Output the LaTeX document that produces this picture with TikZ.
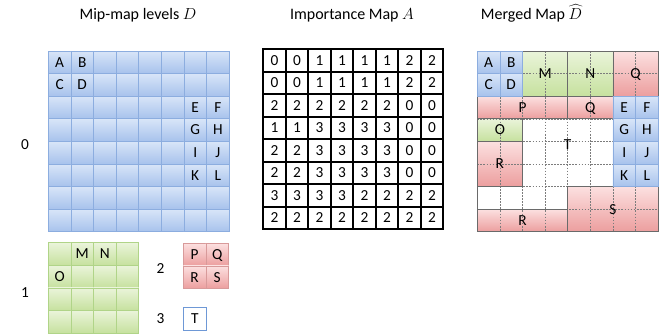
\documentclass[tikz,border=0pt]{standalone}
\usepackage{fontspec}
\setmainfont{Carlito}
\definecolor{bluetop}{HTML}{D8E5F8}
\definecolor{bluebot}{HTML}{A7C2EC}
\definecolor{blueline}{HTML}{8CADDF}
\definecolor{greentop}{HTML}{EAF4DA}
\definecolor{greenbot}{HTML}{C6E19E}
\definecolor{greenline}{HTML}{B0D488}
\definecolor{redtop}{HTML}{FCE0E0}
\definecolor{redbot}{HTML}{EC9E9E}
\definecolor{redline}{HTML}{D89A9A}
\definecolor{regionline}{HTML}{6A6A6A}
\definecolor{dashline}{HTML}{7C7C7C}
\definecolor{tline}{HTML}{6E98D6}
\tikzset{
  bluecell/.style={draw=blueline, line width=0.6pt, top color=bluetop, bottom color=bluebot},
  greencell/.style={draw=greenline, line width=0.6pt, top color=greentop, bottom color=greenbot},
  redcell/.style={draw=redline, line width=0.6pt, top color=redtop, bottom color=redbot},
  greenfill/.style={top color=greentop, bottom color=greenbot},
  redfill/.style={top color=redtop, bottom color=redbot},
  region/.style={draw=regionline, line width=0.6pt},
  gridline/.style={draw=dashline, line width=0.4pt, dash pattern=on 1.3pt off 1pt},
  lab/.style={inner sep=0pt, text height=7.2pt, text depth=0pt, font=\fontsize{11.5}{13}\selectfont},
  title/.style={inner sep=0pt, anchor=base, font=\fontsize{12}{14}\selectfont},
  cellgrid/.style={x=16.95pt, y=-16.95pt},
}
\begin{document}
\begin{tikzpicture}[x=0.75pt, y=-0.75pt]
\useasboundingbox (0,0) rectangle (659,333);

% column titles
\node[title] (tmip) at (138,19.5) {Mip-map levels $D$};
\node[title] (timp) at (352,19.5) {Importance Map $A$};
\node[title] (tmrg) at (531.5,19.5) {Merged Map $\widehat{D}$};

% level numbers
\node[lab] (lev0) at (25,145) {0};
\node[lab] (lev1) at (25,292.5) {1};
\node[lab] (lev2) at (160.5,269) {2};
\node[lab] (lev3) at (160.5,319) {3};

% mip level 0: 8x8
\begin{scope}[shift={(36.225pt,-38.25pt)}, cellgrid]
  \foreach \r in {0,...,7}
    \foreach \c in {0,...,7}
      \draw[bluecell] (\c,\r) rectangle ++(1,1);
  \foreach \c/\r/\t in {0/0/A,1/0/B,0/1/C,1/1/D,6/2/E,7/2/F,6/3/G,7/3/H,6/4/I,7/4/J,6/5/K,7/5/L}
    \node[lab] (d0\t) at (\c+0.5,\r+0.5) {\t};
\end{scope}

% mip level 1: 4x4
\begin{scope}[shift={(36.225pt,-182.025pt)}, cellgrid]
  \foreach \r in {0,...,3}
    \foreach \c in {0,...,3}
      \draw[greencell] (\c,\r) rectangle ++(1,1);
  \foreach \c/\r/\t in {1/0/M,2/0/N,0/1/O}
    \node[lab] (d1\t) at (\c+0.5,\r+0.5) {\t};
\end{scope}

% mip level 2: 2x2
\begin{scope}[shift={(137.475pt,-182.475pt)}, cellgrid]
  \foreach \r in {0,1}
    \foreach \c in {0,1}
      \draw[redcell] (\c,\r) rectangle ++(1,1);
  \foreach \c/\r/\t in {0/0/P,1/0/Q,0/1/R,1/1/S}
    \node[lab] (d2\t) at (\c+0.5,\r+0.5) {\t};
\end{scope}

% mip level 3: 1x1
\begin{scope}[shift={(137.625pt,-230.625pt)}, cellgrid]
  \draw[draw=tline, line width=0.6pt, fill=white] (0,0) rectangle (1,1);
  \node[lab] (d3T) at (0.5,0.5) {T};
\end{scope}

% importance map
\begin{scope}[shift={(197.4pt,-37.05pt)}, x=16.875pt, y=-16.875pt]
  \foreach \row [count=\r from 0] in {{0,0,1,1,1,1,2,2},{0,0,1,1,1,1,2,2},{2,2,2,2,2,2,0,0},{1,1,3,3,3,3,0,0},{2,2,3,3,3,3,0,0},{2,2,3,3,3,3,0,0},{3,3,3,3,2,2,2,2},{2,2,2,2,2,2,2,2}}
    \foreach \v [count=\c from 0] in \row
      \node[lab] (a\r-\c) at (\c+0.5,\r+0.5) {\v};
  \foreach \i in {0,...,8} {
    \draw[line width=1.5pt] (\i,-0.04) -- (\i,8.04);
    \draw[line width=1.5pt] (-0.04,\i) -- (8.04,\i);
  }
\end{scope}

% merged map
\begin{scope}[shift={(357.975pt,-38.25pt)}, cellgrid]
  % region fills
  \fill[greenfill] (2,0) rectangle (4,2);
  \fill[greenfill] (4,0) rectangle (6,2);
  \fill[redfill]   (6,0) rectangle (8,2);
  \fill[redfill]   (0,2) rectangle (4,3);
  \fill[redfill]   (4,2) rectangle (6,3);
  \fill[greenfill] (0,3) rectangle (2,4);
  \fill[redfill]   (0,4) rectangle (2,6);
  \fill[redfill]   (4,6) rectangle (8,8);
  \fill[redfill]   (0,7) rectangle (4,8);
  % level-0 cell grid
  \foreach \i in {1,...,7} {
    \draw[gridline] (\i,0) -- (\i,8);
    \draw[gridline] (0,\i) -- (8,\i);
  }
  % region outlines
  \draw[region] (2,0) rectangle (4,2);
  \draw[region] (4,0) rectangle (6,2);
  \draw[region] (6,0) rectangle (8,2);
  \draw[region] (0,2) rectangle (4,3);
  \draw[region] (4,2) rectangle (6,3);
  \draw[region] (0,3) rectangle (2,4);
  \draw[region] (0,4) rectangle (2,6);
  \draw[region] (2,3) -- (6,3) -- (6,6) -- (4,6) -- (4,7) -- (0,7) -- (0,6) -- (2,6) -- cycle;
  \draw[region] (4,6) rectangle (8,8);
  \draw[region] (0,7) rectangle (4,8);
  \draw[region] (0,0) rectangle (8,8);
  % full-resolution cells
  \foreach \c/\r/\t in {0/0/A,1/0/B,0/1/C,1/1/D,6/2/E,7/2/F,6/3/G,7/3/H,6/4/I,7/4/J,6/5/K,7/5/L} {
    \draw[bluecell] (\c,\r) rectangle ++(1,1);
    \node[lab] (m\t) at (\c+0.5,\r+0.5) {\t};
  }
  % coarser labels
  \node[lab] (mM) at (3,1) {M};
  \node[lab] (mN) at (5,1) {N};
  \node[lab] (mQa) at (7,1) {Q};
  \node[lab] (mP) at (2,2.5) {P};
  \node[lab] (mQb) at (5,2.5) {Q};
  \node[lab] (mO) at (1,3.5) {O};
  \node[lab] (mRa) at (1,5) {R};
  \node[lab] (mT) at (4,4.15) {T};
  \node[lab] (mS) at (6,7) {S};
  \node[lab] (mRb) at (2,7.5) {R};
\end{scope}
\end{tikzpicture}
\end{document}
